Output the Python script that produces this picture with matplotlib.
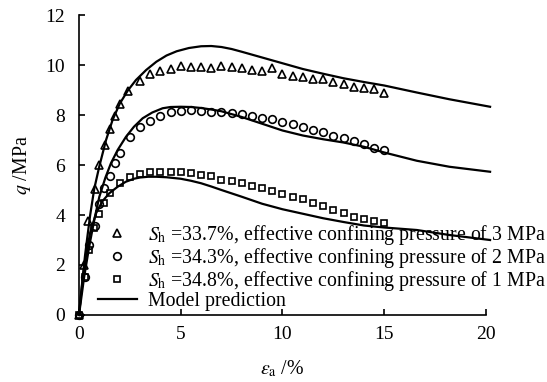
import matplotlib
matplotlib.use("Agg")
import matplotlib.pyplot as plt
from matplotlib.lines import Line2D

plt.rcParams['font.family'] = ['Liberation Serif', 'DejaVu Serif']
plt.rcParams['mathtext.fontset'] = 'stix'
plt.rcParams['font.size'] = 14

# Measured deviator stress q (MPa) vs axial strain (%)
strain_3mpa = [0, 0.25, 0.45, 0.8, 1.0, 1.3, 1.5, 1.75, 2.0, 2.4, 3.0, 3.5, 4.0, 4.5,
               5.0, 5.5, 6.0, 6.5, 7.0, 7.5, 8.0, 8.5, 9.0, 9.5, 10.0, 10.5, 11.0,
               11.5, 12.0, 12.5, 13.0, 13.5, 14.0, 14.5, 15.0]
q_3mpa = [0, 2.0, 3.75, 5.05, 6.0, 6.8, 7.45, 7.95, 8.45, 8.95, 9.37, 9.64, 9.76, 9.85,
          9.97, 9.93, 9.93, 9.9, 9.97, 9.93, 9.87, 9.8, 9.77, 9.87, 9.64, 9.57, 9.51,
          9.43, 9.43, 9.31, 9.23, 9.13, 9.07, 9.03, 8.89]

strain_2mpa = [0, 0.3, 0.5, 0.8, 1.0, 1.25, 1.5, 1.75, 2.0, 2.5, 3.0, 3.5, 4.0, 4.5,
               5.0, 5.5, 6.0, 6.5, 7.0, 7.5, 8.0, 8.5, 9.0, 9.5, 10.0, 10.5, 11.0,
               11.5, 12.0, 12.5, 13.0, 13.5, 14.0, 14.5, 15.0]
q_2mpa = [0, 1.53, 2.8, 3.58, 4.43, 5.07, 5.58, 6.09, 6.49, 7.11, 7.51, 7.77, 7.97, 8.11,
          8.17, 8.2, 8.17, 8.13, 8.13, 8.08, 8.03, 7.96, 7.89, 7.83, 7.71, 7.64, 7.51,
          7.4, 7.31, 7.17, 7.07, 6.96, 6.83, 6.69, 6.6]

strain_1mpa = [0, 0.3, 0.5, 0.75, 1.0, 1.25, 1.5, 2.0, 2.5, 3.0, 3.5, 4.0, 4.5, 5.0,
               5.5, 6.0, 6.5, 7.0, 7.5, 8.0, 8.5, 9.0, 9.5, 10.0, 10.5, 11.0, 11.5,
               12.0, 12.5, 13.0, 13.5, 14.0, 14.5, 15.0]
q_1mpa = [0, 1.51, 2.6, 3.47, 4.03, 4.49, 4.87, 5.27, 5.53, 5.64, 5.71, 5.73, 5.71, 5.73,
          5.67, 5.6, 5.56, 5.4, 5.37, 5.29, 5.17, 5.07, 4.96, 4.84, 4.73, 4.63, 4.49,
          4.36, 4.2, 4.07, 3.91, 3.84, 3.76, 3.67]

# Model prediction curves
model_strain_3mpa = [0, 0.1, 0.2, 0.3, 0.4, 0.55, 0.75, 1.0, 1.33, 1.65, 2.0, 2.4, 2.8,
                     3.3, 3.8, 4.3, 4.8, 5.4, 6.0, 6.5, 7.0, 7.5, 8.0, 9.0, 10.0, 11.0,
                     12.0, 13.0, 14.0, 15.0, 16.6, 18.2, 20.2]
model_q_3mpa = [0, 0.85, 1.65, 2.4, 3.05, 4.0, 5.05, 5.95, 7.0, 7.8, 8.45, 8.98, 9.4,
                9.8, 10.13, 10.38, 10.55, 10.68, 10.75, 10.76, 10.72, 10.64, 10.53, 10.3,
                10.07, 9.84, 9.65, 9.47, 9.32, 9.18, 8.9, 8.63, 8.33]

model_strain_2mpa = [0, 0.1, 0.25, 0.5, 0.75, 1.0, 1.3, 1.57, 1.9, 2.31, 2.7, 3.13, 3.6,
                     4.11, 4.5, 5.0, 5.5, 6.0, 6.5, 7.0, 8.0, 9.0, 10.0, 11.0, 12.0, 13.0,
                     14.0, 15.0, 16.6, 18.2, 20.2]
model_q_2mpa = [0, 0.6, 1.5, 2.73, 3.8, 4.73, 5.5, 6.07, 6.6, 7.13, 7.53, 7.87, 8.1,
                8.27, 8.32, 8.33, 8.32, 8.28, 8.22, 8.15, 7.92, 7.65, 7.38, 7.18, 7.03,
                6.9, 6.73, 6.5, 6.17, 5.93, 5.73]

model_strain_1mpa = [0, 0.1, 0.2, 0.34, 0.55, 0.84, 1.15, 1.49, 1.9, 2.3, 2.7, 3.0, 3.4,
                     3.8, 4.3, 5.0, 5.5, 6.0, 6.5, 7.0, 8.0, 9.0, 10.0, 11.0, 12.0, 13.0,
                     14.0, 15.0, 16.6, 18.2, 20.2]
model_q_1mpa = [0, 0.8, 1.55, 2.33, 3.3, 4.07, 4.55, 4.87, 5.13, 5.33, 5.45, 5.5, 5.53,
                5.53, 5.51, 5.45, 5.37, 5.27, 5.14, 5.0, 4.73, 4.45, 4.23, 4.05, 3.87,
                3.72, 3.58, 3.5, 3.4, 3.2, 3.0]

labels = [r'$S_{\mathrm{h}}$ =33.7%, effective confining pressure of 3 MPa',
          r'$S_{\mathrm{h}}$ =34.3%, effective confining pressure of 2 MPa',
          r'$S_{\mathrm{h}}$ =34.8%, effective confining pressure of 1 MPa',
          'Model prediction']

x_ticks = [0, 5, 10, 15, 20]
y_ticks = [0, 2, 4, 6, 8, 10, 12]

fig = plt.figure(figsize=(5.47, 3.82), dpi=100)
ax = fig.add_axes([0.1444, 0.1754, 0.8885 - 0.1444, 0.9607 - 0.1754])

lw_model = 1.6
for xs, ys in [(model_strain_3mpa, model_q_3mpa),
               (model_strain_2mpa, model_q_2mpa),
               (model_strain_1mpa, model_q_1mpa)]:
    ax.plot(xs, ys, color='black', lw=lw_model, clip_on=False, zorder=2)

mk = dict(linestyle='none', markerfacecolor='none', markeredgecolor='black',
          markeredgewidth=1.2, clip_on=False, zorder=3)
ax.plot(strain_3mpa, q_3mpa, marker='^', markersize=6.2, **mk)
ax.plot(strain_2mpa, q_2mpa, marker='o', markersize=5.5, **mk)
ax.plot(strain_1mpa, q_1mpa, marker='s', markersize=5, **mk)

ax.set_xlim(0, 20)
ax.set_ylim(0, 12)
ax.set_xticks(x_ticks)
ax.set_yticks(y_ticks)
ax.spines['top'].set_visible(False)
ax.spines['right'].set_visible(False)
for s in ('left', 'bottom'):
    ax.spines[s].set_linewidth(1.2)
ax.tick_params(direction='in', length=4, width=1.2, labelsize=14)
ax.tick_params(axis='x', pad=8)
ax.tick_params(axis='y', pad=10)

ax.set_xlabel(r'$\varepsilon_{\mathrm{a}}$ /%', fontsize=14.3, labelpad=11)
ax.set_ylabel(r'$q$ /MPa', fontsize=14.3, labelpad=9)

handles = [
    Line2D([], [], marker='^', markersize=6.2, linestyle='none', markerfacecolor='none',
           markeredgecolor='black', markeredgewidth=1.2),
    Line2D([], [], marker='o', markersize=5.5, linestyle='none', markerfacecolor='none',
           markeredgecolor='black', markeredgewidth=1.2),
    Line2D([], [], marker='s', markersize=5, linestyle='none', markerfacecolor='none',
           markeredgecolor='black', markeredgewidth=1.2),
    Line2D([], [], color='black', lw=lw_model),
]
fig.legend(handles, labels, loc='upper left', bbox_to_anchor=(0.179, 0.417),
           frameon=False, fontsize=14.3, borderpad=0, borderaxespad=0,
           handlelength=1.97, handletextpad=0.56, labelspacing=-0.04)

fig.savefig('out.png', dpi=100)
